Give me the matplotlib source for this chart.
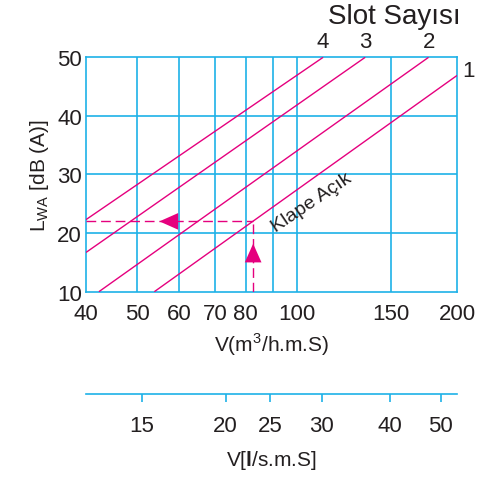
import numpy as np
import matplotlib.pyplot as plt

# fuente tipo Helvetica
plt.rcParams['font.family'] = ['Liberation Sans', 'DejaVu Sans']
plt.rcParams['mathtext.fontset'] = 'custom'
plt.rcParams['mathtext.rm'] = 'Liberation Sans'
plt.rcParams['mathtext.bf'] = 'Liberation Sans:bold'

# Datos (V en m3/h.m.S, L en dB(A))
slot_labels = ['4', '3', '2', '1']
line_v = [[40, 111.9], [40, 134.3], [42.3, 176.8], [53.8, 200]]
line_l = [[22.3, 50], [16.7, 50], [10, 50], [10, 46.9]]

v_ticks = [40, 50, 60, 70, 80, 100, 150, 200]
v_grid = [50, 60, 70, 80, 90, 100, 150]
l_ticks = [10, 20, 30, 40, 50]

# ejemplo "Klape Açık"
ex_v = 82.6
ex_l = 22

# eje inferior l/s (posiciones equivalentes en m3/h)
ls_pos = [51, 73.3, 88.9, 111.2, 149.6, 186.5]
ls_labels = ['15', '20', '25', '30', '40', '50']

MAG = '#E5007E'
CYAN = '#1EB1E7'
TXT = '#231F20'

fig = plt.figure(figsize=(4.8, 4.81), dpi=100)
ax = fig.add_axes([86 / 480, 188.3 / 481, 371 / 480, 234.4 / 481])
ax.set_xscale('log')
ax.set_xlim(40, 200)
ax.set_ylim(10, 50)

for v in v_grid:
    ax.axvline(v, color=CYAN, lw=1.2, zorder=1)
for l in l_ticks[1:-1]:
    ax.axhline(l, color=CYAN, lw=1.2, zorder=1)
for s in ax.spines.values():
    s.set_color(CYAN)
    s.set_linewidth(1.2)

for vs, ls in zip(line_v, line_l):
    ax.plot(vs, ls, color=MAG, lw=1.0, zorder=3, solid_capstyle='butt')

# líneas de lectura
ax.plot([40, ex_v], [ex_l, ex_l], color=MAG, lw=1.0, dashes=(7, 3.5), zorder=3)
ax.plot([ex_v, ex_v], [10, ex_l], color=MAG, lw=1.0, dashes=(7, 3.5), zorder=3)
head = '-|>,head_length=1.35,head_width=0.6'
ax.annotate('', xy=(55.0, ex_l), xytext=(60.5, ex_l),
            arrowprops=dict(arrowstyle=head, color=MAG, lw=0, mutation_scale=10,
                            shrinkA=0, shrinkB=0), zorder=4)
ax.annotate('', xy=(ex_v, 18.2), xytext=(ex_v, 14.0),
            arrowprops=dict(arrowstyle=head, color=MAG, lw=0, mutation_scale=10,
                            shrinkA=0, shrinkB=0), zorder=4)

ax.text(106.3, 25.3, 'Klape Açık', rotation=34, rotation_mode='anchor',
        ha='center', va='center', fontsize=14, color=TXT)

ax.set_xticks(v_ticks)
ax.set_xticklabels([str(v) for v in v_ticks])
ax.xaxis.set_minor_locator(plt.NullLocator())
ax.set_yticks(l_ticks)
ax.tick_params(length=0, labelsize=16, colors=TXT, pad=8)
ax.tick_params(axis='y', pad=3)
ax.set_xlabel(r'V(m$^{\mathregular{3}}$/h.m.S)', fontsize=15, color=TXT, labelpad=5)
ax.set_ylabel(r'L$_{\mathregular{WA}}$ [dB (A)]', fontsize=15, color=TXT, labelpad=4)

# etiquetas de slot
top_pos = [line_v[0][1], line_v[1][1], line_v[2][1]]
for lab, v in zip(slot_labels[:3], top_pos):
    ax.text(v, 52.7, lab, ha='center', va='center', fontsize=16, color=TXT, clip_on=False)
ax.text(204.4, 47.7, slot_labels[3], ha='left', va='center', fontsize=16, color=TXT, clip_on=False)
ax.text(203, 57.0, 'Slot Sayısı', ha='right', va='center', fontsize=20, color=TXT,
        clip_on=False)

# eje inferior en l/s
ax2 = fig.add_axes([86 / 480, 86 / 481, 371 / 480, 0.001])
ax2.set_xscale('log')
ax2.set_xlim(40, 200)
ax2.set_yticks([])
for side in ['top', 'left', 'right']:
    ax2.spines[side].set_visible(False)
ax2.spines['bottom'].set_color(CYAN)
ax2.spines['bottom'].set_linewidth(1.2)
ax2.set_xticks(ls_pos)
ax2.set_xticklabels(ls_labels)
ax2.xaxis.set_minor_locator(plt.NullLocator())
ax2.tick_params(axis='x', direction='out', length=6, width=1.2, color=CYAN,
                labelsize=16, labelcolor=TXT, pad=9)
ax2.set_xlabel(r'V[$\mathbf{l}$/s.m.S]', fontsize=15, color=TXT, labelpad=9)

fig.savefig('out.png', dpi=100)
